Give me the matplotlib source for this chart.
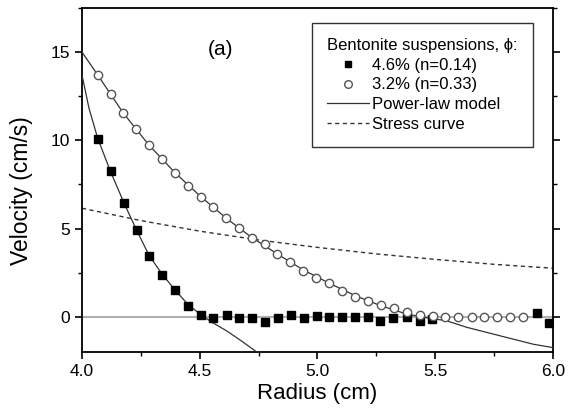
import matplotlib
matplotlib.use("Agg")
import matplotlib.pyplot as plt
from matplotlib.lines import Line2D
from matplotlib.ticker import MultipleLocator

plt.rcParams['font.family'] = ['Liberation Sans', 'DejaVu Sans']

# 4.6% bentonite (filled squares)
sq_x = [4.067, 4.122, 4.180, 4.232, 4.286, 4.341, 4.396, 4.450, 4.504, 4.557,
        4.614, 4.667, 4.720, 4.777, 4.831, 4.886, 4.943, 4.998, 5.050, 5.105,
        5.159, 5.213, 5.267, 5.320, 5.379, 5.435, 5.488, 5.930, 5.985]
sq_y = [10.07, 8.27, 6.42, 4.90, 3.42, 2.38, 1.52, 0.63, 0.11, -0.10,
        0.10, -0.10, -0.10, -0.30, -0.10, 0.10, -0.10, 0.06, -0.04, 0.0,
        0.0, -0.04, -0.23, -0.08, 0.0, -0.27, -0.15, 0.20, -0.35]

# 3.2% bentonite (open circles)
ci_x = [4.067, 4.122, 4.175, 4.231, 4.285, 4.341, 4.396, 4.450, 4.505, 4.557,
        4.611, 4.668, 4.720, 4.776, 4.830, 4.883, 4.940, 4.994, 5.050, 5.105,
        5.159, 5.216, 5.270, 5.326, 5.379, 5.435, 5.489, 5.541, 5.598, 5.655,
        5.708, 5.761, 5.817, 5.871]
ci_y = [13.68, 12.60, 11.52, 10.64, 9.71, 8.93, 8.13, 7.43, 6.80, 6.20,
        5.60, 5.03, 4.48, 4.14, 3.57, 3.10, 2.62, 2.20, 1.90, 1.48,
        1.10, 0.91, 0.67, 0.50, 0.25, 0.08, 0.04, -0.04, -0.04, -0.04,
        -0.04, -0.04, -0.04, -0.04]

# power-law model, 4.6%
pl1_x = [4.0, 4.03, 4.067, 4.122, 4.18, 4.232, 4.286, 4.341, 4.396, 4.45, 4.504,
         4.55, 4.614, 4.68, 4.742]
pl1_y = [13.7, 11.8, 10.1, 8.2, 6.4, 4.9, 3.45, 2.4, 1.5, 0.7, 0.12,
         -0.3, -0.8, -1.4, -2.0]

# power-law model, 3.2%
pl2_x = [4.0, 4.067, 4.175, 4.285, 4.396, 4.505, 4.611, 4.72, 4.83, 4.94,
         5.05, 5.159, 5.27, 5.379, 5.46, 5.548, 5.634, 5.775, 5.917, 6.0]
pl2_y = [15.0, 13.7, 11.55, 9.72, 8.15, 6.8, 5.6, 4.5, 3.55, 2.65,
         1.9, 1.2, 0.62, 0.15, -0.05, -0.23, -0.6, -1.08, -1.56, -1.75]

# stress curve
st_x = [4.0, 4.25, 4.5, 4.75, 5.0, 5.25, 5.5, 5.75, 6.0]
st_y = [6.15, 5.45, 4.85, 4.35, 3.93, 3.56, 3.25, 2.97, 2.75]

x_ticks = [4.0, 4.5, 5.0, 5.5, 6.0]
y_ticks = [0, 5, 10, 15]

fig = plt.figure(figsize=(5.73, 4.16), dpi=100)
ax = fig.add_axes([0.1431, 0.1538, 0.8220, 0.8270])

ax.axhline(0, color='#b0b0b0', lw=1.5, zorder=1)
ax.plot(st_x, st_y, color='#333333', lw=1.0, ls=(0, (3, 2.5)), zorder=2)
ax.plot(pl1_x, pl1_y, color='#333333', lw=0.9, zorder=3)
ax.plot(pl2_x, pl2_y, color='#333333', lw=0.9, zorder=3)
ax.plot(sq_x, sq_y, ls='none', marker='s', ms=5.5, mfc='black', mec='black', zorder=4)
ax.plot(ci_x, ci_y, ls='none', marker='o', ms=6, mfc='white', mec='#555555', mew=1.0, zorder=5)

ax.set_xlim(4.0, 6.0)
ax.set_ylim(-2.0, 17.5)
ax.set_xticks(x_ticks)
ax.set_xticklabels([f"{v:.1f}" for v in x_ticks])
ax.set_yticks(y_ticks)
ax.xaxis.set_minor_locator(MultipleLocator(0.25))
ax.yaxis.set_minor_locator(MultipleLocator(2.5))
ax.tick_params(which='major', direction='out', length=5, width=1.2, labelsize=12.5)
ax.tick_params(which='minor', direction='out', length=3, width=1.0)
ax.tick_params(axis='y', which='both', right=True)
for s in ax.spines.values():
    s.set_linewidth(1.3)
ax.set_xlabel('Radius (cm)', fontsize=16, labelpad=3)
ax.set_ylabel('Velocity (cm/s)', fontsize=16.5)
ax.yaxis.set_label_coords(-0.103, 0.47)

ax.text(4.59, 15.15, '(a)', fontsize=15, ha='center', va='center')

handles = [
    Line2D([], [], ls='none', marker='s', ms=5, mfc='black', mec='black'),
    Line2D([], [], ls='none', marker='o', ms=5.5, mfc='white', mec='#555555'),
    Line2D([], [], color='#333333', lw=0.9),
    Line2D([], [], color='#333333', lw=1.0, ls=(0, (3, 2.5))),
]
labels = ['4.6% (n=0.14)', '3.2% (n=0.33)', 'Power-law model', 'Stress curve']
leg = ax.legend(handles, labels, title='Bentonite suspensions, \u03d5:',
                loc='upper right', bbox_to_anchor=(0.9575, 0.957),
                fontsize=12, title_fontsize=12, alignment='left',
                frameon=True, fancybox=False, edgecolor='black',
                handlelength=2.5, handletextpad=0.18, labelspacing=0.29,
                borderpad=0.9, borderaxespad=0.0)
leg.get_frame().set_linewidth(1.0)

fig.savefig('out.png', dpi=100)
